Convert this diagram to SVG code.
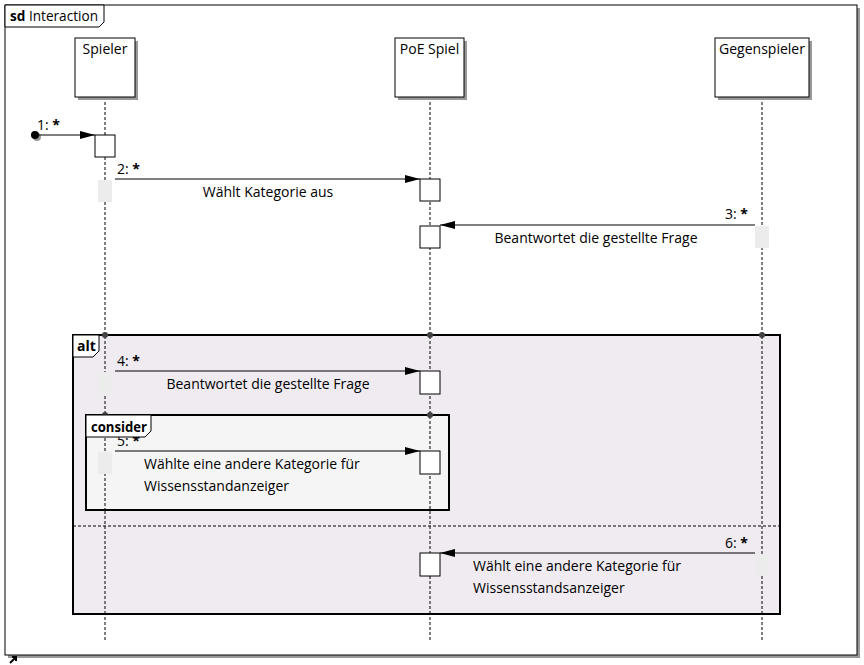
<svg xmlns="http://www.w3.org/2000/svg" width="864" height="665" viewBox="0 0 864 665">
<defs>
<style>
text{font-family:"Open Sans","DejaVu Sans",sans-serif;font-size:14px;fill:#000}
.b{font-weight:bold}
.head{fill:#fff;stroke:#000;stroke-width:1}
.shadow{fill:#999}
.life{stroke:#000;stroke-width:1;stroke-dasharray:3,2;fill:none}
.act{fill:#fff;stroke:#000;stroke-width:1}
.gact{fill:#ececec;stroke:none}
.msg{stroke:#000;stroke-width:1;fill:none}
.dot{fill:#444}
</style>
<marker id="ah" markerWidth="16" markerHeight="10" refX="15" refY="5" orient="auto" markerUnits="userSpaceOnUse">
<path d="M0,1 L15,5 L0,9 Z" fill="#000"/>
</marker>
</defs>
<rect width="864" height="665" fill="#fff"/>
<g id="frame">
<rect x="8" y="8" width="852" height="650" class="shadow"/>
<rect x="5" y="5" width="852" height="650" fill="#fff" stroke="#000"/>
<path d="M5,5 H104 V22 L99,27 H5 Z" fill="#fff" stroke="#000"/>
<text x="10" y="21" textLength="88" lengthAdjust="spacingAndGlyphs"><tspan class="b">sd</tspan> Interaction</text>
</g>
<g id="lifelines">
<line x1="105" y1="97" x2="105" y2="641" class="life"/>
<line x1="430" y1="97" x2="430" y2="641" class="life"/>
<line x1="762" y1="97" x2="762" y2="641" class="life"/>
</g>
<g id="spieler">
<rect x="78" y="41" width="60" height="59" class="shadow"/>
<rect x="75" y="38" width="60" height="59" class="head"/>
<text x="105" y="54" text-anchor="middle">Spieler</text>
</g>
<g id="poe">
<rect x="398" y="41" width="69" height="59" class="shadow"/>
<rect x="395" y="38" width="69" height="59" class="head"/>
<text x="429.5" y="54" text-anchor="middle">PoE Spiel</text>
</g>
<g id="gegenspieler">
<rect x="718" y="41" width="94" height="59" class="shadow"/>
<rect x="715" y="38" width="94" height="59" class="head"/>
<text x="762" y="54" text-anchor="middle">Gegenspieler</text>
</g>
<g id="alt">
<rect x="73" y="335" width="707" height="279" fill="#efebf1" stroke="#000" stroke-width="2"/>
<path d="M73,335 H99 V351 L93,357 H73 Z" fill="#fff" stroke="#000"/>
<text x="77" y="351" class="b">alt</text>
<line x1="73" y1="526" x2="780" y2="526" stroke="#000" stroke-dasharray="3,2"/>
<line x1="105" y1="336" x2="105" y2="613" class="life"/>
<line x1="430" y1="336" x2="430" y2="613" class="life"/>
<line x1="762" y1="336" x2="762" y2="613" class="life"/>
</g>
<g id="consider">
<rect x="86" y="415" width="363" height="95" fill="#f5f5f5" stroke="#000" stroke-width="2"/>
<line x1="105" y1="438" x2="105" y2="509" class="life"/>
<line x1="430" y1="416" x2="430" y2="509" class="life"/>
</g>
<g id="dots">
<circle cx="105" cy="335" r="3" class="dot"/>
<circle cx="430" cy="335" r="3" class="dot"/>
<circle cx="762" cy="335" r="3" class="dot"/>
<circle cx="105" cy="415" r="3" class="dot"/>
<circle cx="430" cy="415" r="3" class="dot"/>
</g>
<g id="activations">
<rect x="95" y="135" width="20" height="22" class="act"/>
<rect x="98" y="180" width="14" height="22" class="gact"/>
<rect x="420" y="179" width="20" height="22" class="act"/>
<rect x="755" y="226" width="14" height="22" class="gact"/>
<rect x="420" y="226" width="20" height="22" class="act"/>
<rect x="98" y="372" width="14" height="22" class="gact"/>
<rect x="420" y="371" width="20" height="23" class="act"/>
<rect x="98" y="452" width="14" height="22" class="gact"/>
<rect x="420" y="451" width="20" height="23" class="act"/>
<rect x="755" y="554" width="14" height="22" class="gact"/>
<rect x="420" y="553" width="20" height="23" class="act"/>
</g>
<g id="connectors">
<circle cx="37" cy="137" r="4" fill="#999"/>
<circle cx="35" cy="135" r="4" fill="#000"/>
<line x1="35" y1="135" x2="95" y2="135" class="msg" marker-end="url(#ah)"/>
<line x1="115" y1="179" x2="420" y2="179" class="msg" marker-end="url(#ah)"/>
<line x1="755" y1="225" x2="440" y2="225" class="msg" marker-end="url(#ah)"/>
<line x1="115" y1="371" x2="420" y2="371" class="msg" marker-end="url(#ah)"/>
<line x1="115" y1="451" x2="420" y2="451" class="msg" marker-end="url(#ah)"/>
<line x1="755" y1="553" x2="440" y2="553" class="msg" marker-end="url(#ah)"/>
</g>
<g id="labels">
<text x="37" y="130">1: <tspan class="b">*</tspan></text>
<text x="117" y="174">2: <tspan class="b">*</tspan></text>
<text x="268" y="197" text-anchor="middle">Wählt Kategorie aus</text>
<text x="748" y="219" text-anchor="end">3: <tspan class="b">*</tspan></text>
<text x="596" y="243" text-anchor="middle">Beantwortet die gestellte Frage</text>
<text x="117" y="366">4: <tspan class="b">*</tspan></text>
<text x="268" y="389" text-anchor="middle">Beantwortet die gestellte Frage</text>
<text x="117" y="446">5: <tspan class="b">*</tspan></text>
<text x="144" y="469">Wählte eine andere Kategorie für</text>
<text x="144" y="491">Wissensstandanzeiger</text>
<text x="748" y="548" text-anchor="end">6: <tspan class="b">*</tspan></text>
<text x="473" y="571">Wählt eine andere Kategorie für</text>
<text x="473" y="593">Wissensstandsanzeiger</text>
</g>
<g id="consider-tab">
<path d="M86,415 H151 V431 L145,437 H86 Z" fill="#fff" stroke="#000"/>
<text x="91" y="432" class="b" textLength="56" lengthAdjust="spacingAndGlyphs">consider</text>
</g>
<g id="corner-icon">
<path d="M10,663 L15,658 M12,657 H16 V661" stroke="#000" stroke-width="2" fill="none"/>
</g>
</svg>
